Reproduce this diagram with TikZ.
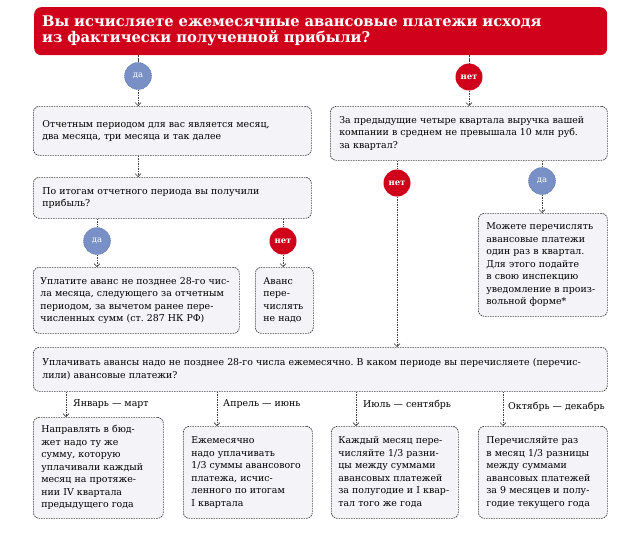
\documentclass[tikz,border=0pt]{standalone}
\usepackage{fontspec}
\setmainfont{DejaVu Serif}
\usetikzlibrary{arrows.meta}
\definecolor{boxfill}{HTML}{F3F3F8}
\definecolor{linec}{HTML}{404040}
\definecolor{myred}{HTML}{D0021B}
\definecolor{myblue}{HTML}{7890C6}
\definecolor{bluedge}{HTML}{56709F}
\newcommand\bfnt{\fontsize{9.4}{12.5}\selectfont\frenchspacing}
\begin{document}
\begin{tikzpicture}[x=1pt,y=-1pt,
  bx/.style={draw=linec, fill=boxfill, rounded corners=6pt,
    dash pattern=on 1.6pt off 0.9pt, line width=0.7pt,
    inner xsep=9pt, inner ysep=0pt, align=left, anchor=north west, font=\bfnt},
  title/.style={fill=myred, rounded corners=7pt, text=white, inner xsep=8pt,
    inner ysep=0pt, align=left, anchor=north west,
    font=\fontsize{14.7}{16}\selectfont\bfseries},
  yes/.style={circle, fill=myblue, draw=bluedge, dash pattern=on 1pt off 0.8pt,
    line width=0.5pt, minimum size=27pt, inner sep=0pt, text=white,
    font=\fontsize{8.5}{9}\selectfont},
  no/.style={circle, fill=myred, minimum size=27pt, inner sep=0pt, text=white,
    font=\fontsize{8.5}{9}\selectfont\bfseries},
  conn/.style={draw=linec, line width=0.7pt, dash pattern=on 1.6pt off 0.9pt},
  arr/.style={conn, -{Straight Barb[length=3pt,width=6pt,line width=0.6pt]}},
  lbl/.style={anchor=west, inner sep=0pt, font=\bfnt}
]
\useasboundingbox (0,0) rectangle (644,535);
\fill[white] (0,0) rectangle (644,535);

% title
\node[title, minimum width=573pt, minimum height=48pt, text width=557pt] (t) at (34,7)
  {Вы исчисляете ежемесячные авансовые платежи исходя\\из фактически полученной прибыли?};

% boxes
\node[bx, minimum width=278pt, minimum height=49pt, text width=260pt] (bA) at (33,106)
  {Отчетным периодом для вас является месяц,\\два месяца, три месяца и так далее};
\node[bx, minimum width=278pt, minimum height=41pt, text width=260pt] (bB) at (33,177)
  {По итогам отчетного периода вы получили\\прибыль?};
\node[bx, minimum width=277pt, minimum height=54pt, text width=259pt] (bC) at (330,106)
  {За предыдущие четыре квартала выручка вашей\\компании в среднем не превышала 10 млн руб.\\за квартал?};
\node[bx, inner xsep=7pt, minimum width=206pt, minimum height=66pt, text width=192pt] (bD) at (33,267)
  {Уплатите аванс не позднее 28-го чис-\\ла месяца, следующего за отчетным\\периодом, за вычетом ранее пере-\\численных сумм (ст. 287 НК РФ)};
\node[bx, inner xsep=8pt, minimum width=58pt, minimum height=66pt, text width=42pt] (bE) at (255,267)
  {Аванс\\пере-\\числять\\не надо};
\node[bx, inner xsep=8pt, minimum width=129pt, minimum height=103pt, text width=113pt] (bF) at (478,213)
  {Можете перечислять\\авансовые платежи\\один раз в квартал.\\Для этого подайте\\в свою инспекцию\\уведомление в произ-\\вольной форме*};
\node[bx, minimum width=574pt, minimum height=44pt, text width=556pt] (bG) at (33,347)
  {Уплачивать авансы надо не позднее 28-го числа ежемесячно. В каком периоде вы перечисляете (перечис-\\лили) авансовые платежи?};
\node[bx, inner xsep=8pt, minimum width=130pt, minimum height=101pt, text width=114pt] (bH) at (33,417)
  {Направлять в бюд-\\жет надо ту же\\сумму, которую\\уплачивали каждый\\месяц на протяже-\\нии IV квартала\\предыдущего года};
\node[bx, inner xsep=8pt, minimum width=129pt, minimum height=92pt, text width=113pt] (bI) at (183,426)
  {Ежемесячно\\надо уплачивать\\1/3 суммы авансового\\платежа, исчис-\\ленного по итогам\\I квартала};
\node[bx, inner xsep=7pt, minimum width=127pt, minimum height=92pt, text width=113pt] (bJ) at (331,426)
  {Каждый месяц пере-\\числяйте 1/3 разни-\\цы между суммами\\авансовых платежей\\за полугодие и I квар-\\тал того же года};
\node[bx, inner xsep=8pt, minimum width=129pt, minimum height=92pt, text width=113pt] (bK) at (478,426)
  {Перечисляйте раз\\в месяц 1/3 разницы\\между суммами\\авансовых платежей\\за 9 месяцев и полу-\\годие текущего года};

% circles
\node[yes] (y1) at (138,76) {да};
\node[no]  (n1) at (469,77) {нет};
\node[yes] (y2) at (97,241) {да};
\node[no]  (n2) at (283,241) {нет};
\node[no]  (n3) at (397,183) {нет};
\node[yes] (y3) at (542,181) {да};

% branch coordinates
\coordinate (c1) at (66,0);
\coordinate (c2) at (217,0);
\coordinate (c3) at (356,0);
\coordinate (c4) at (503,0);

% connectors
\draw[conn] (y1 |- t.south) -- (y1);
\draw[arr] (y1) -- (y1 |- bA.north);
\draw[conn] (n1 |- t.south) -- (n1);
\draw[arr] (n1) -- (n1 |- bC.north);
\draw[arr] (y1 |- bA.south) -- (y1 |- bB.north);
\draw[conn] (y2 |- bB.south) -- (y2);
\draw[arr] (y2) -- (y2 |- bD.north);
\draw[conn] (n2 |- bB.south) -- (n2);
\draw[arr] (n2) -- (n2 |- bE.north);
\draw[conn] (n3 |- bC.south) -- (n3);
\draw[arr] (n3) -- (n3 |- bG.north);
\draw[conn] (y3 |- bC.south) -- (y3);
\draw[arr] (y3) -- (y3 |- bF.north);
\draw[arr] (c1 |- bG.south) -- (c1 |- bH.north);
\draw[arr] (c2 |- bG.south) -- (c2 |- bI.north);
\draw[arr] (c3 |- bG.south) -- (c3 |- bJ.north);
\draw[arr] (c4 |- bG.south) -- (c4 |- bK.north);

% branch labels
\node[lbl] (l1) at (73,404) {Январь — март};
\node[lbl] (l2) at (223,404) {Апрель — июнь};
\node[lbl] (l3) at (363,405) {Июль — сентябрь};
\node[lbl] (l4) at (508,407) {Октябрь — декабрь};
\end{tikzpicture}
\end{document}
